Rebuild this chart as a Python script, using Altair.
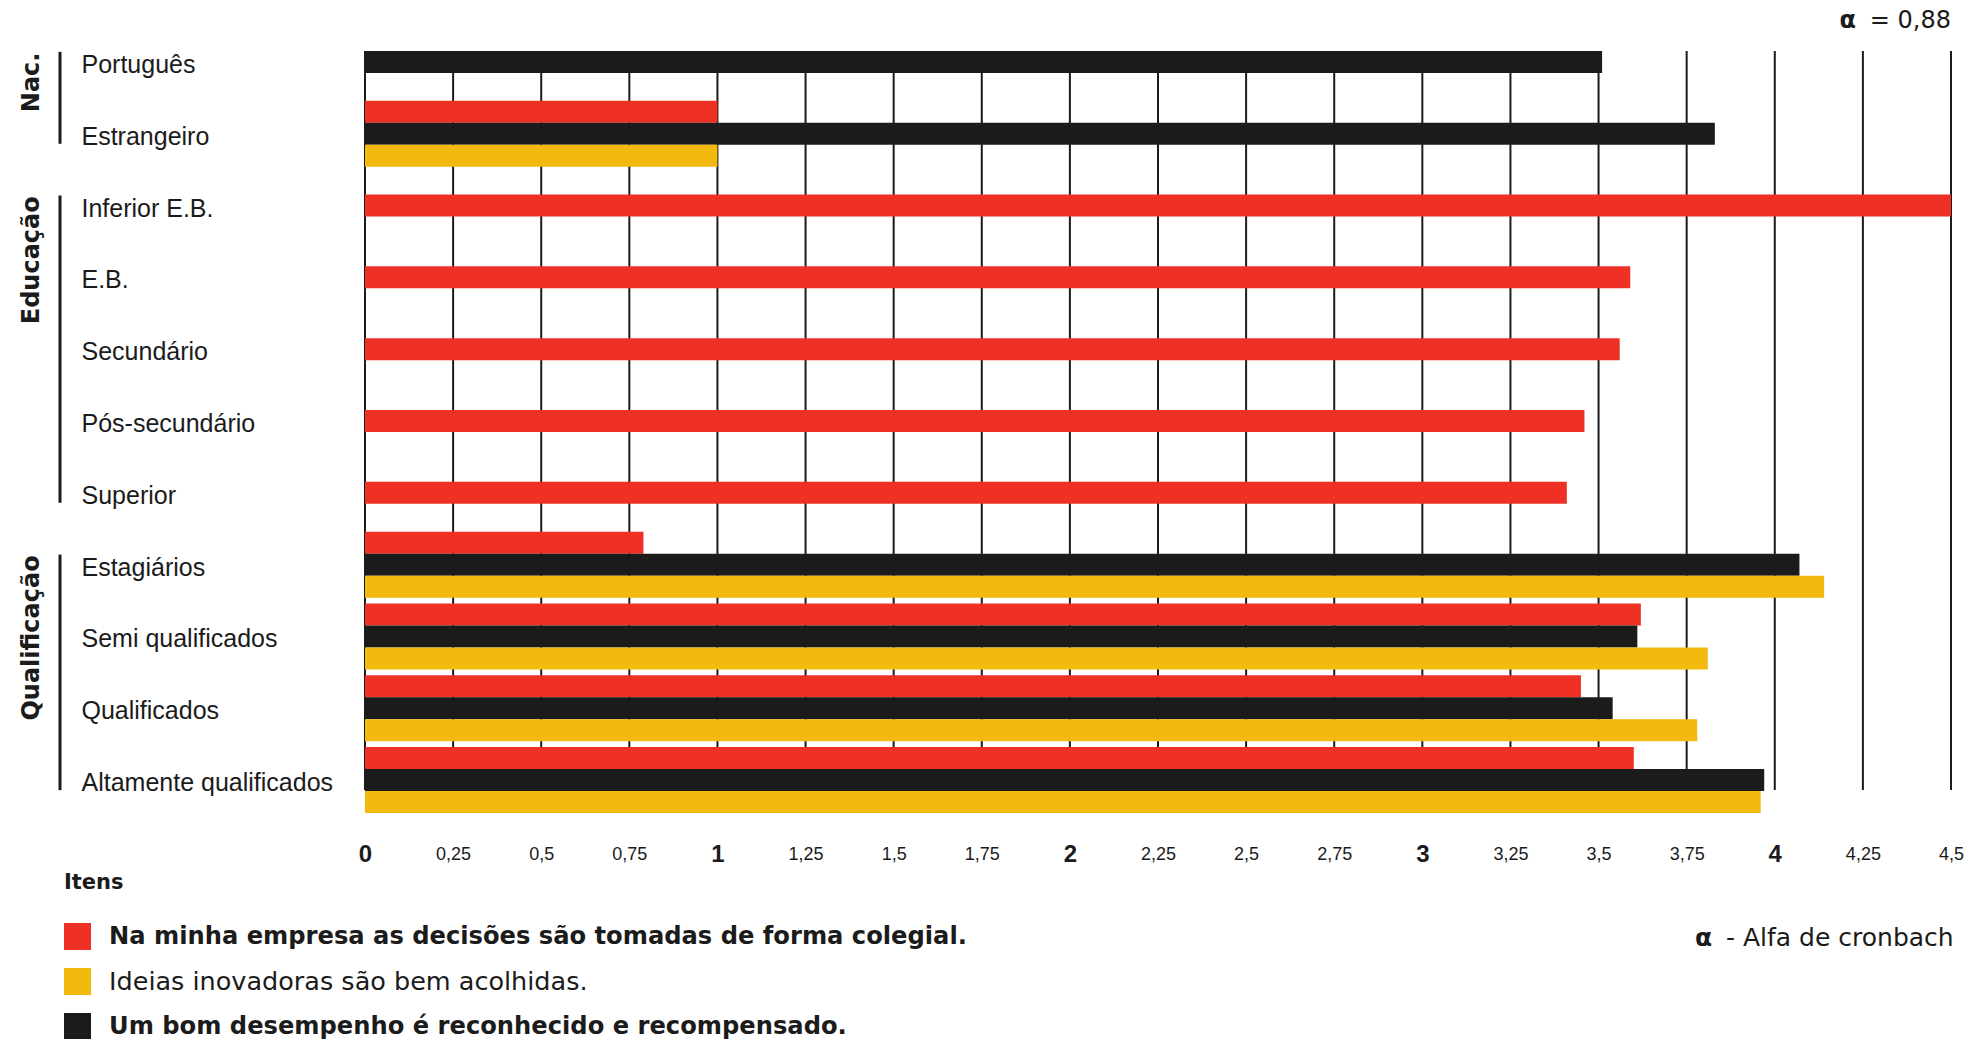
import altair as alt
import pandas as pd

# ---- data -------------------------------------------------------------
ROWS = [
    "Português", "Estrangeiro",
    "Inferior E.B.", "E.B.", "Secundário", "Pós-secundário", "Superior",
    "Estagiários", "Semi qualificados", "Qualificados", "Altamente qualificados",
]

S_RED = "Na minha empresa as decisões são tomadas de forma colegial."
S_YEL = "Ideias inovadoras são bem acolhidas."
S_BLK = "Um bom desempenho é reconhecido e recompensado."

RED = [None, 1.00, 4.50, 3.59, 3.56, 3.46, 3.41, 0.79, 3.62, 3.45, 3.60]
BLACK = [3.51, 3.83, None, None, None, None, None, 4.07, 3.61, 3.54, 3.97]
YELLOW = [None, 1.00, None, None, None, None, None, 4.14, 3.81, 3.78, 3.96]

GROUP_NAMES = ["Nac.", "Educação", "Qualificação"]
GROUP_FIRST = ["Português", "Inferior E.B.", "Estagiários"]
GROUP_LAST = ["Estrangeiro", "Superior", "Altamente qualificados"]

X_TICKS = [0, 0.25, 0.5, 0.75, 1, 1.25, 1.5, 1.75, 2, 2.25, 2.5, 2.75,
           3, 3.25, 3.5, 3.75, 4, 4.25, 4.5]

ALPHA_SYMBOL = "α"
ALPHA_VALUE = "= 0,88"
ALPHA_NOTE = "- Alfa de cronbach"

# ---- long table for the bars -----------------------------------------
records = []
for i, row in enumerate(ROWS):
    present = [(s, v) for s, v in ((S_RED, RED[i]), (S_BLK, BLACK[i]), (S_YEL, YELLOW[i])) if v is not None]
    for s, v in present:
        if len(present) == 1:
            slot = "b"
        else:
            slot = {S_RED: "a", S_BLK: "b", S_YEL: "c"}[s]
        records.append({"row": row, "series": s, "value": v, "slot": slot})
bars_df = pd.DataFrame(records)

groups_df = pd.DataFrame({"group": GROUP_NAMES, "first": GROUP_FIRST, "last": GROUP_LAST})
ticks_df = pd.DataFrame({"tick": X_TICKS})

INK = "#1b1b1b"
COLORS = ["#ee3124", "#f2b90f", "#1b1b1b"]
SERIES_ORDER = [S_RED, S_YEL, S_BLK]

PLOT_W = 1586
PLOT_H = 739

Y_SCALE = alt.Scale(domain=ROWS, range=[-25, 765], paddingInner=0, paddingOuter=0)
X_SCALE = alt.Scale(domain=[0, 4.5], nice=False, zero=True)

Y_AXIS = alt.Axis(
    title=None, domain=False, ticks=False, tickSize=0, grid=False, labelAlign="left",
    labelPadding=284, labelOffset=3, labelFont="Liberation Sans", labelFontSize=25,
    labelColor=INK, labelBaseline="middle", labelLimit=500,
)
X_AXIS = alt.Axis(
    title=None, values=X_TICKS, grid=False,
    domain=False, ticks=False, labelOverlap=False, labelFlush=False,
    labelBound=False,
    labelExpr="replace(toString(datum.value), '.', ',')",
    labelFont="Liberation Sans", labelColor=INK, labelBaseline="middle",
    labelPadding=64,
    labelFontSize={"condition": {"test": "datum.value % 1 === 0", "value": 24}, "value": 18},
    labelFontWeight={"condition": {"test": "datum.value % 1 === 0", "value": "bold"}, "value": "normal"},
)

# vertical reference lines at every tick, spanning the bar area
gridlines = alt.Chart(ticks_df).mark_rule(color=INK, strokeWidth=2).encode(
    x=alt.X("tick:Q", scale=X_SCALE, axis=X_AXIS),
    y=alt.value(0),
    y2=alt.value(PLOT_H),
)

bars = alt.Chart(bars_df).mark_bar().encode(
    x=alt.X("value:Q", scale=X_SCALE, axis=X_AXIS),
    y=alt.Y("row:N", scale=Y_SCALE, sort=ROWS, axis=Y_AXIS),
    yOffset=alt.YOffset(
        "slot:N",
        scale=alt.Scale(domain=["a", "b", "c"], paddingInner=0, paddingOuter=0.132),
    ),
    color=alt.Color(
        "series:N",
        scale=alt.Scale(domain=SERIES_ORDER, range=COLORS),
        legend=alt.Legend(
            orient="none", legendX=-301, legendY=821, direction="vertical",
            title="Itens", titleFont="DejaVu Sans", titleFontSize=21, titleFontWeight="bold",
            titleColor=INK, titlePadding=30, titleAnchor="start",
            labelFont="DejaVu Sans", labelColor=INK, labelLimit=1200,
            labelFontSize=alt.ExprRef(expr="datum.value === '" + S_YEL + "' ? 25.5 : 24.2"),
            labelFontWeight=alt.ExprRef(expr="datum.value === '" + S_YEL + "' ? 'normal' : 'bold'"),
            symbolType="square", symbolSize=729, symbolStrokeWidth=0, symbolOpacity=1,
            rowPadding=18, labelOffset=18, padding=0,
        ),
    ),
)

brackets = alt.Chart(groups_df).mark_rule(color=INK, strokeWidth=3).encode(
    x=alt.value(-305),
    y=alt.Y("first:N", scale=Y_SCALE, bandPosition=0.36, axis=Y_AXIS),
    y2=alt.Y2("last:N", bandPosition=0.64),
)

group_labels = alt.Chart(groups_df).mark_text(
    angle=270, align="right", baseline="alphabetic",
    font="DejaVu Sans", fontWeight="bold", fontSize=24, color=INK,
).encode(
    x=alt.value(-326),
    y=alt.Y("first:N", scale=Y_SCALE, bandPosition=0.37, axis=Y_AXIS),
    text="group:N",
)

alpha_sym_top = alt.Chart(pd.DataFrame({"t": [ALPHA_SYMBOL]})).mark_text(
    align="right", baseline="alphabetic", font="DejaVu Sans", fontWeight="bold",
    fontSize=24, color=INK,
).encode(x=alt.value(1491), y=alt.value(-23), text="t:N")

alpha_val_top = alt.Chart(pd.DataFrame({"t": [ALPHA_VALUE]})).mark_text(
    align="right", baseline="alphabetic", font="DejaVu Sans", fontSize=24, color=INK,
).encode(x=alt.value(PLOT_W), y=alt.value(-23), text="t:N")

alpha_sym_note = alt.Chart(pd.DataFrame({"t": [ALPHA_SYMBOL]})).mark_text(
    align="left", baseline="alphabetic", font="DejaVu Sans", fontWeight="bold",
    fontSize=25, color=INK,
).encode(x=alt.value(1330), y=alt.value(895), text="t:N")

alpha_txt_note = alt.Chart(pd.DataFrame({"t": [ALPHA_NOTE]})).mark_text(
    align="left", baseline="alphabetic", font="DejaVu Sans", fontSize=25, color=INK,
).encode(x=alt.value(1361), y=alt.value(895), text="t:N")

chart = alt.layer(
    gridlines, bars, brackets, group_labels,
    alpha_sym_top, alpha_val_top, alpha_sym_note, alpha_txt_note,
).properties(
    width=PLOT_W,
    height=PLOT_H,
    autosize=alt.AutoSizeParams(type="none"),
    padding={"left": 365, "top": 51, "right": 35, "bottom": 249},
    background="white",
).configure_view(stroke="transparent")

chart.save("out.html", embed_options={"renderer": "svg", "actions": False})
